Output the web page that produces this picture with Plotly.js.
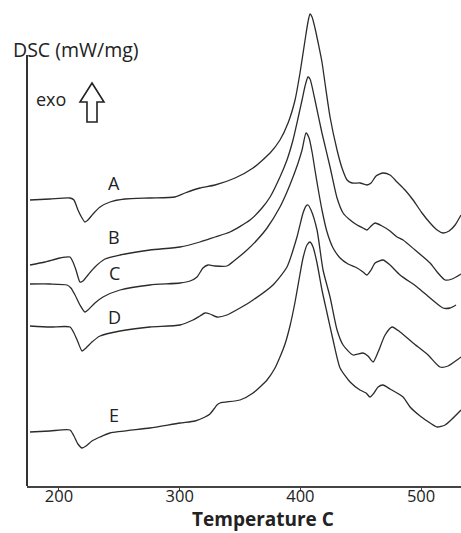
<!DOCTYPE html>
<html>
<head>
<meta charset="utf-8">
<script src="https://cdn.plot.ly/plotly-3.0.1.min.js"></script>
<style>html,body{margin:0;padding:0;background:#fff;}#chart{width:461px;height:533px;}</style>
</head>
<body>
<div id="chart"></div>
<script>
// Temperature (°C) and DSC signal (arbitrary offset units) for each sample
const tempA = [176.0,192.5,209.1,212.4,215.7,219.1,221.5,224.0,228.2,234.0,242.3,254.7,275.4,296.1,304.4,316.8,329.3,345.9,360.8,374.9,383.1,389.8,395.6,399.7,403.9,406.3,408.0,409.7,412.1,414.6,417.9,420.4,424.6,430.4,434.5,438.7,442.8,449.4,455.2,458.6,462.7,468.5,474.3,480.1,486.7,493.4,500.8,507.5,513.3,518.2,523.2,528.2,533.1];
const dscA  = [2.86,2.87,2.88,2.86,2.76,2.68,2.64,2.66,2.72,2.79,2.84,2.87,2.88,2.89,2.93,2.98,3.01,3.08,3.18,3.33,3.46,3.63,3.86,4.13,4.46,4.64,4.72,4.69,4.58,4.44,4.24,4.03,3.69,3.36,3.18,3.06,3.03,3.03,3.01,3.03,3.10,3.13,3.11,3.04,2.96,2.86,2.73,2.63,2.56,2.53,2.55,2.61,2.71];

const tempB = [176.0,188.4,200.8,209.1,211.6,214.1,217.4,219.9,224.0,229.8,238.1,250.6,275.4,300.3,316.8,329.3,341.7,358.3,368.2,374.9,383.1,388.9,393.9,398.1,401.4,403.9,406.3,408.0,412.1,417.9,424.6,430.4,435.4,441.2,447.0,451.9,455.2,458.6,461.9,467.7,474.3,480.1,485.1,495.0,507.5,513.3,519.9,525.7,533.1];
const dscB  = [2.21,2.24,2.28,2.29,2.24,2.16,2.04,2.05,2.11,2.19,2.27,2.31,2.36,2.39,2.44,2.49,2.54,2.66,2.78,2.89,3.09,3.26,3.46,3.68,3.86,4.00,4.09,4.07,3.86,3.53,3.19,2.88,2.73,2.66,2.61,2.58,2.56,2.60,2.63,2.60,2.55,2.49,2.46,2.36,2.23,2.14,2.06,2.07,2.12];

const tempC = [176.0,192.5,206.6,209.9,213.3,217.4,221.5,224.0,229.8,236.5,250.6,275.4,300.3,308.6,314.4,319.3,323.5,329.3,339.2,345.9,355.8,364.1,372.4,383.1,388.9,393.9,398.1,401.4,404.7,407.2,409.7,412.1,414.6,417.9,422.1,427.1,432.9,439.5,447.0,451.9,455.2,458.6,461.9,468.5,474.3,482.6,496.7,507.5,518.2,524.0,529.0];
const dscC  = [2.02,2.02,2.01,1.98,1.91,1.81,1.74,1.76,1.83,1.89,1.96,2.01,2.03,2.05,2.09,2.18,2.21,2.20,2.20,2.26,2.36,2.46,2.58,2.79,2.94,3.09,3.23,3.36,3.53,3.48,3.34,3.16,2.98,2.76,2.54,2.38,2.28,2.22,2.18,2.14,2.11,2.16,2.23,2.26,2.21,2.11,1.99,1.88,1.78,1.78,1.81];

const tempD = [176.0,192.5,209.1,212.4,215.7,219.1,222.4,227.3,234.0,250.6,275.4,300.3,311.0,316.8,321.0,325.1,330.9,339.2,350.0,360.8,377.3,388.9,397.2,402.2,404.7,406.3,408.8,413.8,418.8,424.6,430.4,435.4,443.6,451.9,456.0,460.2,464.4,470.2,476.0,482.6,493.4,505.8,515.7,522.4,529.8,533.1];
const dscD  = [1.60,1.59,1.59,1.53,1.44,1.35,1.38,1.44,1.50,1.55,1.59,1.61,1.66,1.70,1.73,1.72,1.69,1.71,1.78,1.86,2.01,2.19,2.49,2.73,2.80,2.81,2.76,2.56,2.16,1.89,1.56,1.41,1.31,1.33,1.30,1.24,1.34,1.51,1.59,1.54,1.43,1.31,1.19,1.20,1.26,1.29];

const tempE = [176.0,192.5,209.1,212.4,215.7,219.1,222.4,227.3,234.0,242.3,275.4,300.3,312.7,321.0,325.1,328.4,330.9,333.4,350.0,360.8,372.4,379.0,383.1,387.3,391.4,395.6,399.7,402.2,405.5,408.0,410.5,413.8,417.9,422.1,427.1,432.9,441.2,449.4,454.4,457.7,461.0,464.4,468.5,474.3,485.1,490.9,499.2,507.5,513.3,519.9,525.7,533.1];
const dscE  = [0.54,0.55,0.56,0.50,0.42,0.38,0.40,0.45,0.49,0.53,0.58,0.63,0.65,0.69,0.72,0.77,0.81,0.83,0.86,0.93,1.06,1.18,1.29,1.42,1.60,1.84,2.12,2.28,2.41,2.44,2.39,2.23,1.96,1.73,1.46,1.18,1.04,0.96,0.93,0.89,0.93,0.99,1.01,0.97,0.89,0.79,0.70,0.63,0.59,0.61,0.67,0.76];

const seriesNames = ['A','B','C','D','E'];
const labelTemp = 245.6;
const labelDsc = [3.03,2.49,2.13,1.69,0.71];
const tickVals = [200,300,400,500];
const xTitle = 'Temperature C';
const yTitle = 'DSC (mW/mg)';
const exoText = 'exo';

const temps = [tempA,tempB,tempC,tempD,tempE];
const dscs = [dscA,dscB,dscC,dscD,dscE];

const W = 461, H = 533, ML = 27, MR = 0, MT = 5, MB = 47;
const PW = W - ML - MR, PH = H - MT - MB;
const px = x => (x - ML) / PW;
const py = y => (H - MB - y) / PH;

const FONT = 'Open Sans, Noto Sans, sans-serif';

const traces = temps.map((t, i) => ({
  x: t, y: dscs[i], type: 'scatter', mode: 'lines', name: seriesNames[i],
  line: {color: '#2b2b2b', width: 1.3, shape: 'spline', smoothing: 0.6},
  hoverinfo: 'skip'
}));

const annotations = seriesNames.map((n, i) => ({
  x: labelTemp, y: labelDsc[i], xref: 'x', yref: 'y', text: n, showarrow: false,
  font: {family: FONT, size: 18, color: '#222'}, xanchor: 'center', yanchor: 'middle'
}));
annotations.push({x: px(11), y: py(49), xref: 'paper', yref: 'paper', text: yTitle, showarrow: false,
  xanchor: 'left', yanchor: 'middle', font: {family: FONT, size: 19.5, color: '#222'}});
annotations.push({x: px(34), y: py(99), xref: 'paper', yref: 'paper', text: exoText, showarrow: false,
  xanchor: 'left', yanchor: 'middle', font: {family: FONT, size: 18, color: '#222'}});
annotations.push({x: px(263), y: py(533), xref: 'paper', yref: 'paper', text: xTitle, showarrow: false,
  xanchor: 'center', yanchor: 'bottom', borderpad: 0, font: {family: FONT, size: 19, color: '#222', weight: 'bold'}});

const arrowPts = [[92,83],[104,102],[97,102],[97,122],[87,122],[87,102],[80,102]];
const arrowPath = 'M' + arrowPts.map(p => px(p[0]).toFixed(4) + ',' + py(p[1]).toFixed(4)).join(' L') + ' Z';

const layout = {
  width: W, height: H,
  margin: {l: ML, r: MR, t: MT, b: MB, pad: 0},
  paper_bgcolor: '#fff', plot_bgcolor: '#fff',
  showlegend: false,
  xaxis: {
    range: [173.5, 533.1], tickvals: tickVals, ticktext: tickVals.map(String),
    ticks: 'outside', ticklen: 3, tickwidth: 1, tickcolor: '#444',
    ticklabelstandoff: -8,
    showline: true, linecolor: '#444', linewidth: 1.5,
    showgrid: false, zeroline: false,
    tickfont: {family: FONT, size: 16.5, color: '#222'}, fixedrange: true
  },
  yaxis: {range: [0, PH / 100], visible: false, showgrid: false, zeroline: false, fixedrange: true},
  annotations: annotations,
  shapes: [
    {type: 'line', xref: 'paper', yref: 'paper', x0: 0, x1: 0, y0: 0, y1: py(55),
     line: {color: '#333', width: 2}},
    {type: 'path', xref: 'paper', yref: 'paper', path: arrowPath,
     line: {color: '#222', width: 1.6}, fillcolor: 'rgba(255,255,255,0)'}
  ]
};

Plotly.newPlot('chart', traces, layout, {displayModeBar: false, staticPlot: true});
</script>
</body>
</html>
